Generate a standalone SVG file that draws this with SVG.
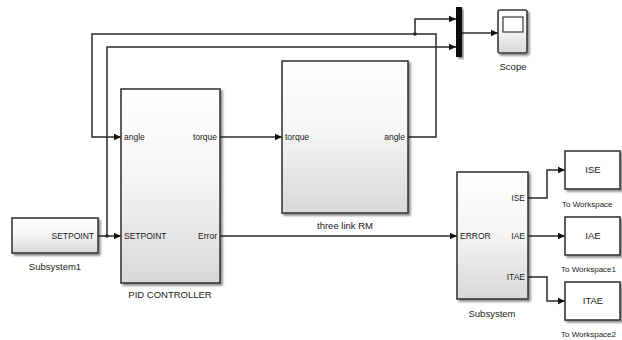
<svg xmlns="http://www.w3.org/2000/svg" width="622" height="340" viewBox="0 0 622 340">
<defs>
<linearGradient id="g" x1="0" y1="0" x2="0" y2="1">
<stop offset="0" stop-color="#ffffff"/>
<stop offset="0.45" stop-color="#f6f6f6"/>
<stop offset="1" stop-color="#d8d8d8"/>
</linearGradient>
<filter id="sh" x="-10%" y="-10%" width="130%" height="130%">
<feGaussianBlur in="SourceAlpha" stdDeviation="1.2"/>
<feOffset dx="2" dy="2" result="o"/>
<feComponentTransfer><feFuncA type="linear" slope="0.45"/></feComponentTransfer>
<feMerge><feMergeNode/><feMergeNode in="SourceGraphic"/></feMerge>
</filter>
<marker id="ar" markerWidth="8" markerHeight="8" refX="7" refY="4" orient="auto" markerUnits="userSpaceOnUse">
<path d="M0,0.8 L7,4 L0,7.2 Z" fill="#111"/>
</marker>
</defs>
<style>
.blk{fill:url(#g);stroke:#3a3a3a;stroke-width:1.6;filter:url(#sh)}
.wl{fill:#fff;stroke:#3a3a3a;stroke-width:1.6;filter:url(#sh)}
.ln{fill:none;stroke:#2a2a2a;stroke-width:1.5}
.t{font-family:"Liberation Sans",Arial,sans-serif;font-size:8.5px;fill:#1a1a1a}
.n{font-family:"Liberation Sans",Arial,sans-serif;font-size:9.5px;fill:#1a1a1a}
.w{font-family:"Liberation Sans",Arial,sans-serif;font-size:8px;fill:#1a1a1a}
.b{font-family:"Liberation Sans",Arial,sans-serif;font-size:9.5px;fill:#1a1a1a}
.e{text-anchor:end}
.m{text-anchor:middle}
</style>
<rect width="622" height="340" fill="#fff"/>

<g id="connectors">
<polyline class="ln" points="408,137 436,137 436,34 92,34 92,137 121,137" marker-end="url(#ar)"/>
<polyline class="ln" points="415,34 415,19 456,19" marker-end="url(#ar)"/>
<circle cx="415" cy="34" r="1.8" fill="#222"/>
<polyline class="ln" points="98,236 121,236" marker-end="url(#ar)"/>
<polyline class="ln" points="107,236 107,47 456,47" marker-end="url(#ar)"/>
<circle cx="107" cy="236" r="1.8" fill="#222"/>
<polyline class="ln" points="220,137 282,137" marker-end="url(#ar)"/>
<polyline class="ln" points="220,236 457,236" marker-end="url(#ar)"/>
<polyline class="ln" points="462,33 498,33" marker-end="url(#ar)"/>
<polyline class="ln" points="528,198 547,198 547,170 565,170" marker-end="url(#ar)"/>
<polyline class="ln" points="528,236 565,236" marker-end="url(#ar)"/>
<polyline class="ln" points="528,277 547,277 547,301 565,301" marker-end="url(#ar)"/>
</g>

<g id="subsystem1">
<rect class="blk" x="12" y="218" width="86" height="35"/>
<text class="t e" x="94" y="239">SETPOINT</text>
<text class="n m" x="55" y="270">Subsystem1</text>
</g>

<g id="pid">
<rect class="blk" x="121" y="89" width="99" height="194"/>
<text class="t" x="124" y="140">angle</text>
<text class="t e" x="217" y="140">torque</text>
<text class="t" x="124" y="239">SETPOINT</text>
<text class="t e" x="217" y="239">Error</text>
<text class="n m" x="170" y="298">PID CONTROLLER</text>
</g>

<g id="rm">
<rect class="blk" x="282" y="61" width="126" height="152"/>
<text class="t" x="285" y="140">torque</text>
<text class="t e" x="405" y="140">angle</text>
<text class="n m" x="345" y="229">three link RM</text>
</g>

<g id="mux">
<rect x="456" y="7" width="6" height="50" fill="#111" filter="url(#sh)"/>
</g>

<g id="scope">
<rect class="blk" x="498" y="10" width="29" height="43" rx="2"/>
<rect x="503" y="17" width="20" height="15" fill="#fff" stroke="#3a3a3a" stroke-width="1.2"/>
<text class="n m" x="513" y="70">Scope</text>
</g>

<g id="subsystem">
<rect class="blk" x="457" y="172" width="71" height="127"/>
<text class="t" x="460" y="239">ERROR</text>
<text class="t e" x="525" y="201">ISE</text>
<text class="t e" x="525" y="239">IAE</text>
<text class="t e" x="525" y="280">ITAE</text>
<text class="n m" x="492" y="317">Subsystem</text>
</g>

<g id="ws0">
<rect class="wl" x="565" y="151" width="55" height="38"/>
<text class="b m" x="593" y="173">ISE</text>
<text class="w" x="562" y="207">To Workspace</text>
</g>
<g id="ws1">
<rect class="wl" x="565" y="217" width="55" height="38"/>
<text class="b m" x="593" y="239">IAE</text>
<text class="w" x="561" y="272">To Workspace1</text>
</g>
<g id="ws2">
<rect class="wl" x="565" y="282" width="55" height="38"/>
<text class="b m" x="593" y="304">ITAE</text>
<text class="w" x="561" y="337">To Workspace2</text>
</g>
</svg>
